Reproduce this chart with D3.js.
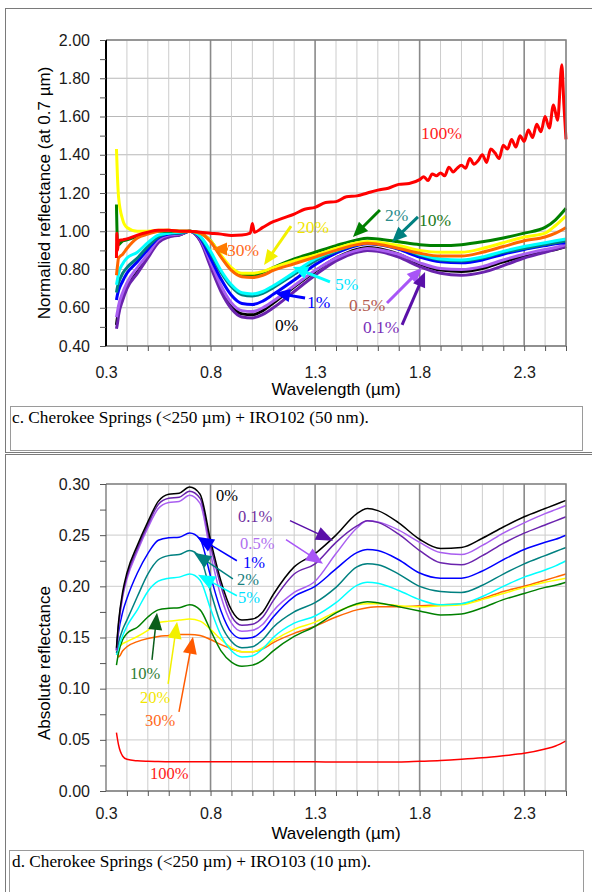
<!DOCTYPE html>
<html>
<head>
<meta charset="utf-8">
<script src="https://cdn.jsdelivr.net/npm/d3@7"></script>
<style>
  body { margin: 0; background: #fff; }
  svg { display: block; }
</style>
</head>
<body>
<script>
// ---- data: panel c (normalized at 0.7 um) ----
var wlTop = [0.35, 0.355, 0.36, 0.38, 0.40, 0.45, 0.50, 0.55, 0.60, 0.65, 0.70, 0.75, 0.80, 0.85, 0.90,
  0.95, 1.00, 1.05, 1.10, 1.20, 1.30, 1.40, 1.50, 1.55, 1.60, 1.70, 1.80, 1.90, 2.00, 2.10,
  2.20, 2.30, 2.40, 2.45, 2.50];
var n0 = [0.51, 0.55, 0.58, 0.66, 0.72, 0.80, 0.87, 0.95, 0.975, 0.98, 1.00, 0.955, 0.83, 0.70, 0.61,
  0.568, 0.563, 0.585, 0.625, 0.71, 0.79, 0.86, 0.905, 0.915, 0.91, 0.88, 0.83, 0.797, 0.79, 0.805,
  0.84, 0.87, 0.895, 0.905, 0.92];
var n01 = [0.49, 0.52, 0.56, 0.64, 0.70, 0.78, 0.86, 0.94, 0.97, 0.98, 1.00, 0.95, 0.815, 0.685, 0.595,
  0.552, 0.547, 0.565, 0.60, 0.685, 0.77, 0.845, 0.89, 0.90, 0.895, 0.865, 0.815, 0.78, 0.77, 0.785,
  0.82, 0.86, 0.89, 0.905, 0.92];
var n05 = [0.55, 0.58, 0.61, 0.68, 0.73, 0.81, 0.88, 0.955, 0.98, 0.985, 1.00, 0.96, 0.84, 0.715, 0.625,
  0.585, 0.58, 0.60, 0.635, 0.715, 0.795, 0.86, 0.90, 0.91, 0.905, 0.88, 0.835, 0.805, 0.80, 0.815,
  0.85, 0.88, 0.905, 0.915, 0.93];
var n1 = [0.64, 0.67, 0.69, 0.74, 0.78, 0.84, 0.905, 0.965, 0.985, 0.99, 1.00, 0.965, 0.86, 0.75, 0.665,
  0.622, 0.617, 0.635, 0.67, 0.745, 0.825, 0.885, 0.925, 0.935, 0.93, 0.905, 0.865, 0.84, 0.835, 0.85,
  0.88, 0.905, 0.925, 0.935, 0.94];
var n2 = [0.68, 0.71, 0.73, 0.78, 0.81, 0.86, 0.92, 0.97, 0.99, 0.99, 1.00, 0.97, 0.885, 0.785, 0.71,
  0.668, 0.662, 0.675, 0.705, 0.775, 0.845, 0.895, 0.93, 0.94, 0.935, 0.915, 0.875, 0.85, 0.845, 0.86,
  0.89, 0.91, 0.93, 0.94, 0.95];
var n5 = [0.72, 0.75, 0.78, 0.83, 0.86, 0.89, 0.94, 0.98, 0.99, 0.995, 1.00, 0.975, 0.895, 0.795, 0.72,
  0.678, 0.672, 0.685, 0.715, 0.785, 0.855, 0.90, 0.935, 0.942, 0.937, 0.92, 0.88, 0.855, 0.85, 0.865,
  0.895, 0.92, 0.94, 0.95, 0.96];
var n10 = [1.14, 0.94, 0.93, 0.95, 0.955, 0.975, 0.99, 1.0, 1.0, 1.0, 1.00, 0.99, 0.95, 0.87, 0.80,
  0.77, 0.77, 0.785, 0.81, 0.855, 0.89, 0.925, 0.955, 0.963, 0.96, 0.945, 0.93, 0.925, 0.93, 0.945,
  0.965, 0.99, 1.02, 1.06, 1.12];
var n20 = [1.43, 1.28, 1.18, 1.06, 1.02, 1.0, 1.0, 1.005, 1.005, 1.0, 1.00, 0.99, 0.95, 0.875, 0.81,
  0.78, 0.78, 0.79, 0.81, 0.845, 0.875, 0.91, 0.94, 0.947, 0.943, 0.925, 0.90, 0.89, 0.89, 0.91,
  0.94, 0.97, 0.99, 1.03, 1.08];
var n30 = [0.77, 0.82, 0.86, 0.88, 0.91, 0.965, 0.985, 1.0, 1.005, 1.0, 1.00, 0.99, 0.945, 0.865, 0.795,
  0.762, 0.758, 0.77, 0.795, 0.83, 0.865, 0.90, 0.93, 0.937, 0.932, 0.91, 0.885, 0.87, 0.87, 0.89,
  0.92, 0.95, 0.97, 0.99, 1.02];
// the 100% curve is noisy, so it gets its own denser wavelength list
var wlRedTop = [0.35, 0.352, 0.355, 0.36, 0.38, 0.40, 0.45, 0.50, 0.55, 0.60, 0.65, 0.70, 0.75, 0.80, 0.85,
  0.90, 0.95, 0.99, 1.00, 1.01, 1.05, 1.10, 1.15, 1.20, 1.25, 1.30, 1.35, 1.40, 1.45, 1.50,
  1.55, 1.60, 1.65, 1.70, 1.75, 1.80, 1.82, 1.84, 1.86, 1.88, 1.90, 1.92, 1.94, 1.96, 1.98,
  2.00, 2.02, 2.04, 2.06, 2.08, 2.10, 2.12, 2.14, 2.16, 2.18, 2.20, 2.22, 2.24, 2.26, 2.28,
  2.30, 2.32, 2.34, 2.36, 2.38, 2.40, 2.42, 2.44, 2.46, 2.48, 2.49, 2.50];
var n100 = [0.86, 0.99, 0.90, 0.95, 0.955, 0.96, 0.98, 0.995, 1.005, 1.005, 1.0, 1.0, 0.995, 0.99, 0.985,
  0.978, 0.98, 0.99, 1.04, 0.995, 1.02, 1.05, 1.07, 1.09, 1.115, 1.125, 1.15, 1.155, 1.18, 1.185,
  1.20, 1.215, 1.225, 1.245, 1.25, 1.27, 1.285, 1.265, 1.30, 1.29, 1.305, 1.29, 1.335, 1.31, 1.33,
  1.345, 1.33, 1.38, 1.35, 1.37, 1.40, 1.36, 1.43, 1.41, 1.38, 1.45, 1.43, 1.48, 1.44, 1.50,
  1.47, 1.53, 1.49, 1.56, 1.52, 1.60, 1.54, 1.66, 1.58, 1.87, 1.66, 1.48];

// ---- data: panel d (absolute reflectance) ----
var wlBot = [0.35, 0.36, 0.38, 0.40, 0.45, 0.50, 0.55, 0.60, 0.65, 0.70, 0.75, 0.80, 0.85, 0.90, 0.95,
  1.00, 1.05, 1.10, 1.20, 1.30, 1.40, 1.50, 1.55, 1.60, 1.70, 1.80, 1.90, 2.00, 2.10, 2.20,
  2.30, 2.40, 2.45, 2.50];
var a0 = [0.140, 0.165, 0.195, 0.213, 0.240, 0.263, 0.283, 0.290, 0.291, 0.297, 0.290, 0.245, 0.205, 0.177, 0.167,
  0.168, 0.175, 0.192, 0.219, 0.232, 0.250, 0.271, 0.276, 0.274, 0.262, 0.246, 0.237, 0.238, 0.247, 0.258,
  0.268, 0.276, 0.280, 0.284];
var a01 = [0.138, 0.163, 0.192, 0.210, 0.237, 0.260, 0.280, 0.286, 0.287, 0.293, 0.286, 0.240, 0.200, 0.171, 0.162,
  0.163, 0.170, 0.186, 0.212, 0.222, 0.243, 0.259, 0.264, 0.2625, 0.251, 0.235, 0.223, 0.221, 0.230, 0.242,
  0.252, 0.260, 0.264, 0.268];
var a05 = [0.137, 0.160, 0.190, 0.207, 0.234, 0.257, 0.276, 0.282, 0.283, 0.289, 0.281, 0.232, 0.190, 0.164, 0.156,
  0.157, 0.163, 0.176, 0.194, 0.205, 0.232, 0.257, 0.264, 0.263, 0.255, 0.243, 0.233, 0.231, 0.240, 0.252,
  0.262, 0.271, 0.275, 0.279];
var a1 = [0.138, 0.155, 0.175, 0.188, 0.213, 0.232, 0.245, 0.2475, 0.248, 0.252, 0.246, 0.210, 0.176, 0.155, 0.149,
  0.150, 0.157, 0.170, 0.190, 0.200, 0.217, 0.233, 0.236, 0.235, 0.226, 0.213, 0.208, 0.208, 0.215, 0.226,
  0.236, 0.243, 0.246, 0.250];
var a2 = [0.135, 0.145, 0.158, 0.167, 0.190, 0.212, 0.226, 0.230, 0.231, 0.235, 0.228, 0.195, 0.163, 0.146, 0.140,
  0.141, 0.148, 0.160, 0.175, 0.184, 0.199, 0.219, 0.222, 0.221, 0.212, 0.200, 0.195, 0.194, 0.201, 0.212,
  0.222, 0.230, 0.234, 0.238];
var a5 = [0.133, 0.140, 0.152, 0.161, 0.177, 0.195, 0.205, 0.208, 0.209, 0.212, 0.206, 0.178, 0.152, 0.137, 0.131,
  0.132, 0.139, 0.150, 0.164, 0.171, 0.184, 0.201, 0.204, 0.203, 0.196, 0.187, 0.182, 0.183, 0.190, 0.200,
  0.209, 0.216, 0.220, 0.225];
var a10 = [0.123, 0.135, 0.148, 0.154, 0.160, 0.170, 0.177, 0.1785, 0.179, 0.182, 0.177, 0.157, 0.137, 0.126, 0.122,
  0.123, 0.128, 0.137, 0.151, 0.161, 0.174, 0.183, 0.185, 0.184, 0.180, 0.176, 0.172, 0.173, 0.179, 0.187,
  0.193, 0.199, 0.201, 0.204];
var a20 = [0.136, 0.140, 0.144, 0.146, 0.151, 0.157, 0.1645, 0.166, 0.167, 0.168, 0.166, 0.158, 0.148, 0.140, 0.136,
  0.136, 0.140, 0.147, 0.158, 0.165, 0.175, 0.182, 0.183, 0.183, 0.181, 0.180, 0.181, 0.182, 0.187, 0.193,
  0.199, 0.204, 0.206, 0.208];
var a30 = [0.138, 0.131, 0.137, 0.141, 0.146, 0.149, 0.151, 0.152, 0.153, 0.153, 0.152, 0.148, 0.143, 0.139, 0.136,
  0.136, 0.139, 0.145, 0.154, 0.161, 0.170, 0.177, 0.179, 0.180, 0.180, 0.181, 0.182, 0.183, 0.188, 0.195,
  0.200, 0.206, 0.209, 0.212];
var a100 = [0.057, 0.045, 0.034, 0.031, 0.0295, 0.029, 0.0288, 0.0286, 0.0285, 0.0285, 0.0285, 0.0285, 0.0285, 0.0285, 0.0285,
  0.0285, 0.0285, 0.0285, 0.0285, 0.0285, 0.0283, 0.0283, 0.0283, 0.0283, 0.0283, 0.0290, 0.0298, 0.031, 0.0325, 0.0345,
  0.0368, 0.041, 0.044, 0.049];

// ---- axes ----
var xLabels = [0.3, 0.8, 1.3, 1.8, 2.3];
var xMinor = [0.4, 0.5, 0.6, 0.7, 0.8, 0.9, 1.0, 1.1, 1.2, 1.3, 1.4, 1.5, 1.6, 1.7, 1.8, 1.9, 2.0, 2.1, 2.2, 2.3, 2.4, 2.5];
var yTicksTop = [0.40, 0.60, 0.80, 1.00, 1.20, 1.40, 1.60, 1.80, 2.00];
var yMinorTop = [0.50, 0.70, 0.90, 1.10, 1.30, 1.50, 1.70, 1.90];
var yTicksBot = [0.00, 0.05, 0.10, 0.15, 0.20, 0.25, 0.30];
var yMinorBot = [0.025, 0.075, 0.125, 0.175, 0.225, 0.275];

var colors = {
    "0%": "#000000", "0.1%": "#6a23ad", "0.5%": "#a95ef0", "1%": "#0000ff", "2%": "#008080",
    "5%": "#00ffff", "10%": "#008000", "20%": "#ffff00", "30%": "#ff6600", "100%": "#ff0000"
};

// ---- annotations (in data units) ----
var labelsTop = [
    {t: "100%", w: 1.806, v: 1.514, c: "#ff1a1a"},
    {t: "20%", w: 1.213, v: 1.022, c: "#f2e600"},
    {t: "30%", w: 0.879, v: 0.902, c: "#ff6a1a"},
    {t: "5%", w: 1.395, v: 0.724, c: "#00e5ff"},
    {t: "1%", w: 1.261, v: 0.630, c: "#0000ff"},
    {t: "0%", w: 1.108, v: 0.510, c: "#000000"},
    {t: "2%", w: 1.634, v: 1.085, c: "#2b8c8c"},
    {t: "10%", w: 1.797, v: 1.059, c: "#217a21"},
    {t: "0.5%", w: 1.462, v: 0.614, c: "#b35a50"},
    {t: "0.1%", w: 1.529, v: 0.499, c: "#7a30b8"}
];
var arrowsTop = [
    {c: "#f2f000", from: [1.185, 1.027], to: [1.056, 0.824]},
    {c: "#ff7a00", from: [0.883, 0.907], to: [0.807, 0.907]},
    {c: "#00ffff", from: [1.371, 0.735], to: [1.194, 0.813]},
    {c: "#0000ff", from: [1.252, 0.651], to: [1.108, 0.677]},
    {c: "#008000", from: [1.610, 1.111], to: [1.481, 0.970]},
    {c: "#008080", from: [1.792, 1.075], to: [1.668, 0.944]},
    {c: "#a855f7", from: [1.644, 0.625], to: [1.811, 0.808]},
    {c: "#5a10a8", from: [1.716, 0.510], to: [1.826, 0.787]}
];
var labelsBot = [
    {t: "0%", w: 0.826, v: 0.2896, c: "#000000"},
    {t: "0.1%", w: 0.931, v: 0.269, c: "#7030a0"},
    {t: "0.5%", w: 0.941, v: 0.2427, c: "#b070f0"},
    {t: "1%", w: 0.955, v: 0.2235, c: "#0000ff"},
    {t: "2%", w: 0.926, v: 0.2075, c: "#1a8080"},
    {t: "5%", w: 0.931, v: 0.1895, c: "#00e0ff"},
    {t: "10%", w: 0.415, v: 0.1155, c: "#2e7d32"},
    {t: "20%", w: 0.463, v: 0.092, c: "#f2e600"},
    {t: "30%", w: 0.487, v: 0.0695, c: "#ff6a1a"},
    {t: "100%", w: 0.510, v: 0.0176, c: "#ff1a1a"}
];
var arrowsBot = [
    {c: "#5a10a8", from: [1.180, 0.2642], to: [1.386, 0.2446]},
    {c: "#a855f7", from: [1.161, 0.2456], to: [1.338, 0.2221]},
    {c: "#0000ff", from: [0.926, 0.225], to: [0.735, 0.2485]},
    {c: "#008080", from: [0.907, 0.2074], to: [0.721, 0.2329]},
    {c: "#00ffff", from: [0.926, 0.1908], to: [0.740, 0.2114]},
    {c: "#0b5e1b", from: [0.520, 0.1282], to: [0.544, 0.1742]},
    {c: "#f2f000", from: [0.597, 0.1047], to: [0.640, 0.1654]},
    {c: "#ff5a00", from: [0.649, 0.0773], to: [0.716, 0.1507]}
];

var svg = d3.select("body").append("svg")
    .attr("width", 592)
    .attr("height", 892)
    .style("font-family", "'Liberation Sans', Arial, sans-serif");

// outer frames and caption boxes
svg.append("rect").attr("x", 5.5).attr("y", 8.5).attr("width", 600).attr("height", 444)
    .attr("fill", "none").attr("stroke", "#7a7a7a");
svg.append("rect").attr("x", 10.5).attr("y", 406.5).attr("width", 572).attr("height", 44)
    .attr("fill", "none").attr("stroke", "#9a9a9a");
svg.append("rect").attr("x", 5.5).attr("y", 454.5).attr("width", 600).attr("height", 460)
    .attr("fill", "none").attr("stroke", "#7a7a7a");
svg.append("rect").attr("x", 9.5).attr("y", 850.5).attr("width", 574).attr("height", 60)
    .attr("fill", "none").attr("stroke", "#9a9a9a");

svg.append("text").attr("x", 12).attr("y", 423)
    .style("font-family", "'Liberation Serif', 'Times New Roman', serif").style("font-size", "17.3px")
    .text("c. Cherokee Springs (<250 µm) + IRO102 (50 nm).");
svg.append("text").attr("x", 12).attr("y", 867)
    .style("font-family", "'Liberation Serif', 'Times New Roman', serif").style("font-size", "17.3px")
    .text("d. Cherokee Springs (<250 µm) + IRO103 (10 µm).");

function drawPanel(p) {
    var x = d3.scaleLinear().domain([0.3, 2.5]).range([106, 566]);
    var y = d3.scaleLinear().domain(p.yDomain).range([p.bottom, p.top]);
    var g = svg.append("g");

    // grid
    g.selectAll("line.hgrid")
        .data(p.yTicks).enter()
        .append("line")
        .attr("x1", 106).attr("x2", 566)
        .attr("y1", function (d) { return y(d); })
        .attr("y2", function (d) { return y(d); })
        .attr("stroke", p.hGridColor)
        .attr("stroke-width", 1.2);

    g.selectAll("line.vgrid")
        .data(xMinor).enter()
        .append("line")
        .attr("x1", function (d) { return x(d); })
        .attr("x2", function (d) { return x(d); })
        .attr("y1", p.top).attr("y2", p.bottom)
        .attr("stroke", function (d) {
            return xLabels.indexOf(d) >= 0 ? "#8a8a8a" : "#cccccc";
        })
        .attr("stroke-width", function (d) {
            return xLabels.indexOf(d) >= 0 ? 1.6 : 1;
        });

    // spectra
    var line = d3.line()
        .x(function (d) { return x(d[0]); })
        .y(function (d) { return y(d[1]); })
        .curve(d3.curveMonotoneX);

    g.selectAll("path.spec")
        .data(p.series).enter()
        .append("path")
        .attr("d", function (d) { return line(d3.zip(d.wl, d.v)); })
        .attr("fill", "none")
        .attr("stroke", function (d) { return colors[d.name]; })
        .attr("stroke-width", p.lineWidth)
        .attr("stroke-linejoin", "round");

    // plot border
    g.append("path")
        .attr("d", "M106," + p.top + "H566V" + p.bottom)
        .attr("fill", "none").attr("stroke", "#808080").attr("stroke-width", 1.5);
    g.append("line").attr("x1", 106).attr("x2", 566).attr("y1", p.bottom).attr("y2", p.bottom)
        .attr("stroke", "#777").attr("stroke-width", 1.5);
    g.append("line").attr("x1", 106).attr("x2", 106).attr("y1", p.top).attr("y2", p.bottom)
        .attr("stroke", p.leftAxisColor).attr("stroke-width", p.leftAxisWidth);

    // axes
    g.append("g").attr("transform", "translate(106,0)")
        .call(d3.axisLeft(y).tickValues(p.yTicks).tickFormat(d3.format(".2f")).tickSize(6).tickPadding(10));
    g.append("g").attr("transform", "translate(106,0)")
        .call(d3.axisLeft(y).tickValues(p.yMinor).tickFormat("").tickSize(6));
    g.append("g").attr("transform", "translate(0," + p.bottom + ")")
        .call(d3.axisBottom(x).tickValues(xLabels).tickFormat(d3.format(".1f")).tickSize(0).tickPadding(p.xPad));
    g.append("g").attr("transform", "translate(0," + p.bottom + ")")
        .call(d3.axisBottom(x).tickValues(xMinor).tickFormat("").tickSize(5));

    g.selectAll(".domain").remove();
    g.selectAll(".tick line").attr("stroke", "#555");
    g.selectAll(".tick text").style("font-size", "16px").attr("fill", "#1a1a1a");

    // axis titles
    g.append("text")
        .attr("x", 336).attr("y", p.xTitleY)
        .attr("text-anchor", "middle")
        .style("font-size", "17px")
        .text("Wavelength (µm)");
    g.append("text")
        .attr("transform", "translate(50," + p.yTitleCenter + ") rotate(-90)")
        .attr("text-anchor", "middle")
        .style("font-size", "17px")
        .text(p.yTitle);

    // arrows
    p.arrows.forEach(function (a) {
        var x1 = x(a.from[0]), y1 = y(a.from[1]);
        var x2 = x(a.to[0]), y2 = y(a.to[1]);
        var len = Math.sqrt((x2 - x1) * (x2 - x1) + (y2 - y1) * (y2 - y1));
        var ux = (x2 - x1) / len, uy = (y2 - y1) / len;
        var bx = x2 - ux * p.headLen, by = y2 - uy * p.headLen;
        var hw = p.headWidth / 2;
        g.append("line")
            .attr("x1", x1).attr("y1", y1).attr("x2", bx + ux * 2).attr("y2", by + uy * 2)
            .attr("stroke", a.c).attr("stroke-width", p.arrowWidth);
        g.append("polygon")
            .attr("points", [[x2, y2], [bx - uy * hw, by + ux * hw], [bx + uy * hw, by - ux * hw]]
                .map(function (pt) { return pt.join(","); }).join(" "))
            .attr("fill", a.c);
    });

    // labels
    g.selectAll("text.ann")
        .data(p.labels).enter()
        .append("text")
        .attr("x", function (d) { return x(d.w); })
        .attr("y", function (d) { return y(d.v) + 6; })
        .attr("fill", function (d) { return d.c; })
        .style("font-family", "'Liberation Serif', 'Times New Roman', serif")
        .style("font-size", p.labelSize)
        .text(function (d) { return d.t; });
}

drawPanel({
    top: 40, bottom: 346, yDomain: [0.40, 2.00],
    yTicks: yTicksTop, yMinor: yMinorTop, hGridColor: "#b8b8b8",
    xPad: 21, xTitleY: 395, yTitleCenter: 193,
    yTitle: "Normalied reflectance (at 0.7 µm)",
    leftAxisColor: "#000", leftAxisWidth: 2,
    lineWidth: 3, arrowWidth: 3, headLen: 15, headWidth: 13, labelSize: "17.5px",
    series: [
        {name: "0%", wl: wlTop, v: n0},
        {name: "0.1%", wl: wlTop, v: n01},
        {name: "0.5%", wl: wlTop, v: n05},
        {name: "1%", wl: wlTop, v: n1},
        {name: "2%", wl: wlTop, v: n2},
        {name: "5%", wl: wlTop, v: n5},
        {name: "10%", wl: wlTop, v: n10},
        {name: "20%", wl: wlTop, v: n20},
        {name: "30%", wl: wlTop, v: n30},
        {name: "100%", wl: wlRedTop, v: n100}
    ],
    labels: labelsTop, arrows: arrowsTop
});

drawPanel({
    top: 484, bottom: 791, yDomain: [0.00, 0.30],
    yTicks: yTicksBot, yMinor: yMinorBot, hGridColor: "#d6d6d6",
    xPad: 17, xTitleY: 839, yTitleCenter: 663,
    yTitle: "Absolute reflectance",
    leftAxisColor: "#666", leftAxisWidth: 1.2,
    lineWidth: 1.5, arrowWidth: 1.5, headLen: 17, headWidth: 14, labelSize: "16.5px",
    series: [
        {name: "100%", wl: wlBot, v: a100},
        {name: "30%", wl: wlBot, v: a30},
        {name: "20%", wl: wlBot, v: a20},
        {name: "10%", wl: wlBot, v: a10},
        {name: "5%", wl: wlBot, v: a5},
        {name: "2%", wl: wlBot, v: a2},
        {name: "1%", wl: wlBot, v: a1},
        {name: "0.5%", wl: wlBot, v: a05},
        {name: "0.1%", wl: wlBot, v: a01},
        {name: "0%", wl: wlBot, v: a0}
    ],
    labels: labelsBot, arrows: arrowsBot
});
</script>
</body>
</html>
